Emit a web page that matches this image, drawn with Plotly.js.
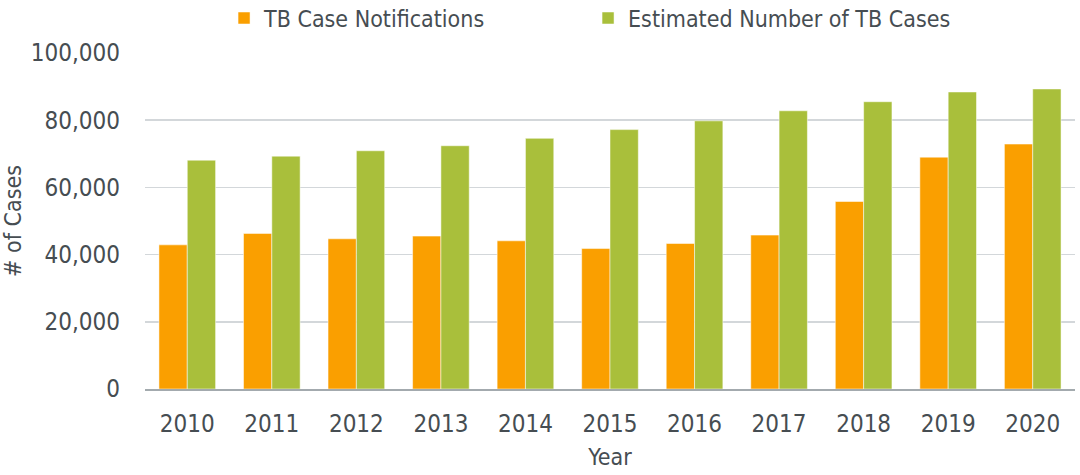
<!DOCTYPE html>
<html>
<head>
<meta charset="utf-8">
<script src="https://cdn.plot.ly/plotly-3.0.1.min.js"></script>
<style>html,body{margin:0;padding:0;background:#fff;}#chart{width:1080px;height:475px;}</style>
</head>
<body>
<div id="chart"></div>
<script>
const years = ['2010','2011','2012','2013','2014','2015','2016','2017','2018','2019','2020'];
const notifications = [42900, 46300, 44700, 45500, 44100, 41800, 43300, 45800, 55800, 69000, 72900];
const estimated = [68100, 69300, 70900, 72400, 74600, 77200, 79800, 82800, 85500, 88400, 89300];
const seriesNames = ['TB Case Notifications', 'Estimated Number of TB Cases'];
const yTicks = [0, 20000, 40000, 60000, 80000, 100000];
const yTickText = ['0', '20,000', '40,000', '60,000', '80,000', '100,000'];

const FONT = '"Liberation Sans Narrow", "DejaVu Sans Condensed", "Roboto Condensed", Roboto, sans-serif';
const TXT = '#464d52';

const data = [
  {type:'bar', name: seriesNames[0], x: years, y: notifications,
   marker:{color:'#fa9f00', line:{color:'rgba(255,255,255,0.5)', width:1}}},
  {type:'bar', name: seriesNames[1], x: years, y: estimated,
   marker:{color:'#a9bf3b', line:{color:'rgba(255,255,255,0.5)', width:1}}}
];

const layout = {
  width:1080, height:475,
  margin:{l:145, r:5, t:53, b:86, autoexpand:false},
  paper_bgcolor:'#fff', plot_bgcolor:'#fff',
  font:{family:FONT, color:TXT, size:22},
  barmode:'group', bargap:0.33, bargroupgap:0,
  showlegend:true,
  legend:{orientation:'h', x:0.085, xanchor:'left', yref:'container', y:0.962, yanchor:'middle',
          font:{family:FONT, size:23, color:TXT}, entrywidth:319, entrywidthmode:'pixels',
          itemwidth:30, bgcolor:'rgba(0,0,0,0)'},
  xaxis:{type:'category', showgrid:false, showline:true, linecolor:'#a3aaae', linewidth:2,
         ticks:'', tickfont:{family:FONT, size:24, color:TXT}, ticklabelstandoff:12,
         title:{text:'Year', font:{family:FONT, size:23, color:TXT}, standoff:12}},
  yaxis:{range:[0,100000], tickvals:yTicks, ticktext:yTickText, showgrid:true,
         gridcolor:'#d3d7da', gridwidth:1.5, zeroline:false, showline:false, ticks:'',
         tickfont:{family:FONT, size:24, color:TXT}, ticklabelstandoff:24,
         title:{text:'# of Cases', font:{family:FONT, size:23, color:TXT}, standoff:6}}
};

Plotly.newPlot('chart', data, layout, {displayModeBar:false, staticPlot:true});
</script>
</body>
</html>
